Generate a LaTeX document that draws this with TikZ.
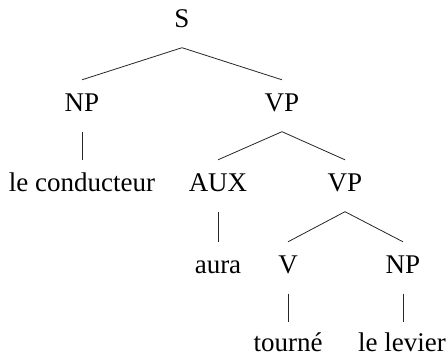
\documentclass[tikz,border=0pt]{standalone}
\usepackage{fontspec}
\setmainfont{Liberation Serif}
\begin{document}
\begin{tikzpicture}[x=1pt,y=-1pt,
  lbl/.style={anchor=base,inner xsep=0pt,inner ysep=0pt,text height=32pt,text depth=19.5pt,font=\fontsize{27}{30}\selectfont},
  rootlbl/.style={lbl,text height=19pt},
  leaf/.style={lbl,text depth=3pt},
  lowleaf/.style={leaf,text height=29.5pt},
  edge/.style={line width=0.8pt,draw=black!85}]
\useasboundingbox (0,0) rectangle (448,358);
\node[rootlbl] (S) at (182,28) {S};
\node[lbl] (NP) at (82,112) {NP};
\node[lbl] (VP) at (282,112) {VP};
\node[leaf] (lc) at (82,192) {le conducteur};
\node[lbl] (AUX) at (218,192) {AUX};
\node[lbl] (VP2) at (345,192) {VP};
\node[leaf] (aura) at (218,274) {aura};
\node[lbl] (V) at (288,274) {V};
\node[lbl] (NP2) at (403,274) {NP};
\node[lowleaf] (tourne) at (288,352) {tourné};
\node[lowleaf] (lev) at (402,352) {le levier};
\draw[edge] (NP.north) -- (S.south) -- (VP.north);
\draw[edge] (NP.south) -- (lc.north);
\draw[edge] (AUX.north) -- (VP.south) -- (VP2.north);
\draw[edge] (AUX.south) -- (aura.north);
\draw[edge] (V.north) -- (VP2.south) -- (NP2.north);
\draw[edge] (V.south) -- (tourne.north);
\draw[edge] (NP2.south) -- (NP2.south |- lev.north);
\end{tikzpicture}
\end{document}
